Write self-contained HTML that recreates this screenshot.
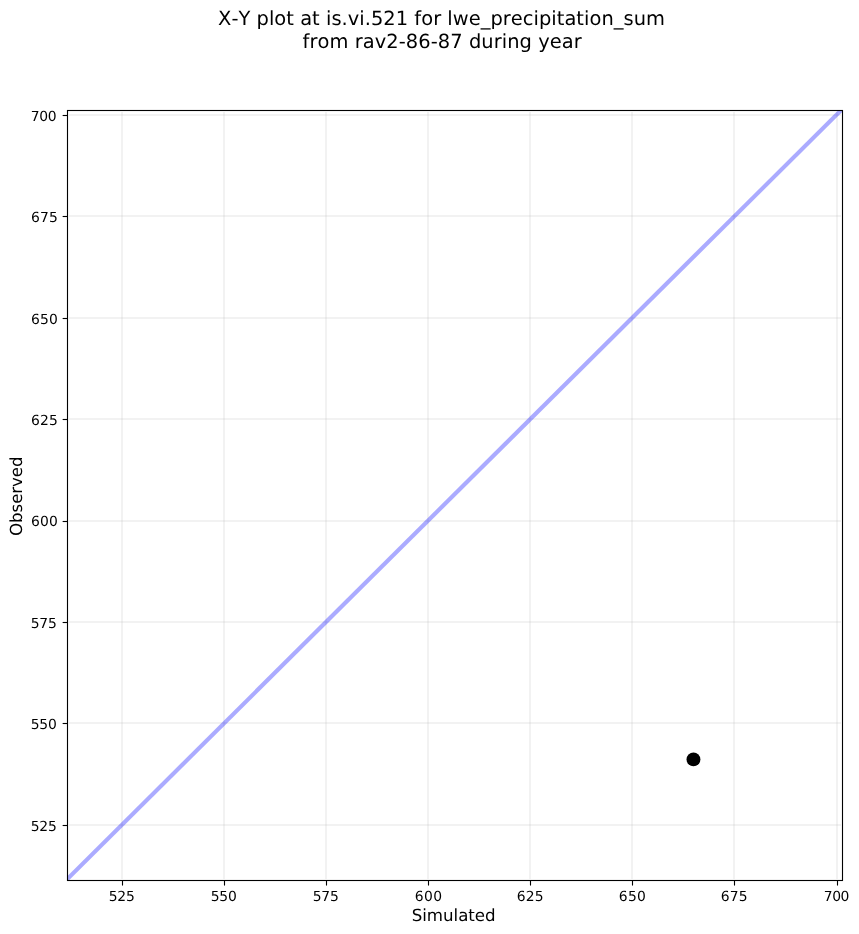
<!DOCTYPE html>
<html><head><meta charset="utf-8"><title>X-Y plot</title><style>
html,body{margin:0;padding:0;background:#fff;overflow:hidden;}
svg{display:block;will-change:transform;}
text{font-family:"DejaVu Sans","Liberation Sans",sans-serif;fill:#000;font-kerning:none;text-rendering:geometricPrecision;}
.t{font-size:13.889px;}
.l{font-size:16.667px;}
.ti{font-size:19.444px;}
</style></head><body>
<svg width="859" height="934" viewBox="0 0 859 934">
<defs><clipPath id="ax"><rect x="67.5" y="110.5" width="775.00" height="770.00"/></clipPath></defs>
<rect width="859" height="934" fill="#fff"/>
<g stroke="#b0b0b0" stroke-opacity="0.17" stroke-width="2.0">
<line x1="122.0" y1="112.0" x2="122.0" y2="879.0"/>
<line x1="224.0" y1="112.0" x2="224.0" y2="879.0"/>
<line x1="326.0" y1="112.0" x2="326.0" y2="879.0"/>
<line x1="428.0" y1="112.0" x2="428.0" y2="879.0"/>
<line x1="530.0" y1="112.0" x2="530.0" y2="879.0"/>
<line x1="632.0" y1="112.0" x2="632.0" y2="879.0"/>
<line x1="734.0" y1="112.0" x2="734.0" y2="879.0"/>
<line x1="837.0" y1="112.0" x2="837.0" y2="879.0"/>
<line x1="69.0" y1="115.0" x2="841.0" y2="115.0"/>
<line x1="69.0" y1="216.0" x2="841.0" y2="216.0"/>
<line x1="69.0" y1="318.0" x2="841.0" y2="318.0"/>
<line x1="69.0" y1="419.0" x2="841.0" y2="419.0"/>
<line x1="69.0" y1="521.0" x2="841.0" y2="521.0"/>
<line x1="69.0" y1="622.0" x2="841.0" y2="622.0"/>
<line x1="69.0" y1="723.0" x2="841.0" y2="723.0"/>
<line x1="69.0" y1="825.0" x2="841.0" y2="825.0"/>
</g>
<line x1="46.650000000000006" y1="899.571" x2="861.65" y2="89.829" stroke="#0000ff" stroke-opacity="0.33" stroke-width="4.17" clip-path="url(#ax)"/>
<circle cx="693.47" cy="759.4" r="6.945" fill="#000"/>
<rect x="67.5" y="110.5" width="775.00" height="770.00" fill="none" stroke="#000" stroke-width="1.11"/>
<g stroke="#000" stroke-width="1.11">
<line x1="122.5" y1="880.5" x2="122.5" y2="885.55"/>
<line x1="224.5" y1="880.5" x2="224.5" y2="885.55"/>
<line x1="326.5" y1="880.5" x2="326.5" y2="885.55"/>
<line x1="428.5" y1="880.5" x2="428.5" y2="885.55"/>
<line x1="530.5" y1="880.5" x2="530.5" y2="885.55"/>
<line x1="632.5" y1="880.5" x2="632.5" y2="885.55"/>
<line x1="734.5" y1="880.5" x2="734.5" y2="885.55"/>
<line x1="837.5" y1="880.5" x2="837.5" y2="885.55"/>
<line x1="67.5" y1="115.5" x2="62.64" y2="115.5"/>
<line x1="67.5" y1="216.5" x2="62.64" y2="216.5"/>
<line x1="67.5" y1="318.5" x2="62.64" y2="318.5"/>
<line x1="67.5" y1="419.5" x2="62.64" y2="419.5"/>
<line x1="67.5" y1="521.5" x2="62.64" y2="521.5"/>
<line x1="67.5" y1="622.5" x2="62.64" y2="622.5"/>
<line x1="67.5" y1="723.5" x2="62.64" y2="723.5"/>
<line x1="67.5" y1="825.5" x2="62.64" y2="825.5"/>
</g>
<text x="108.67" y="901" class="t" textLength="26.14">525</text>
<text x="210.71" y="901" class="t" textLength="26.04">550</text>
<text x="312.71" y="901" class="t" textLength="26.04">575</text>
<text x="414.86" y="901" class="t" textLength="27.17">600</text>
<text x="516.74" y="901" class="t" textLength="26.86">625</text>
<text x="618.74" y="901" class="t" textLength="27.12">650</text>
<text x="720.74" y="901" class="t" textLength="26.86">675</text>
<text x="823.85" y="901" class="t" textLength="25.40">700</text>
<text x="30.76" y="121" class="t" textLength="25.79">700</text>
<text x="30.96" y="222" class="t" textLength="26.81">675</text>
<text x="30.96" y="324" class="t" textLength="26.96">650</text>
<text x="30.96" y="425" class="t" textLength="26.81">625</text>
<text x="30.96" y="526" class="t" textLength="26.96">600</text>
<text x="30.71" y="628" class="t" textLength="26.04">575</text>
<text x="30.71" y="729" class="t" textLength="26.04">550</text>
<text x="30.71" y="831" class="t" textLength="26.04">525</text>
<text x="218.08" y="25" class="ti" textLength="446.84">X-Y plot at is.vi.521 for lwe_precipitation_sum</text>
<text x="302.55" y="48" class="ti" textLength="279.25">from rav2-86-87 during year</text>
<text x="411.70" y="921" class="l" textLength="83.88">Simulated</text>
<text transform="translate(21.95 535.91) rotate(-90)" class="l" textLength="79.46">Observed</text>
</svg>
</body></html>
